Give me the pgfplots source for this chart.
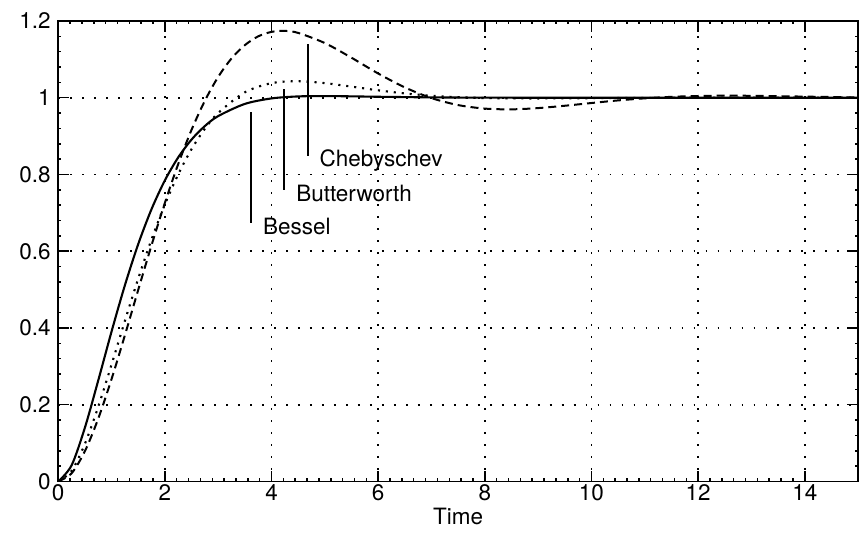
\documentclass[border=0pt]{standalone}
\usepackage{fontspec}
\setmainfont{TeX Gyre Heros}
\usepackage{pgfplots}
\pgfplotsset{compat=1.18}
\newcommand{\bigf}{\fontsize{22.5}{27}\selectfont}
\begin{document}
\begin{tikzpicture}
\begin{axis}[
  name=ax,
  width=800.7pt, height=461pt, scale only axis,
  xmin=0, xmax=15, ymin=0, ymax=1.2,
  xtick={0,2,4,6,8,10,12,14},
  ytick={0,0.2,0.4,0.6,0.8,1,1.2},
  /pgf/number format/assume math mode=true,
  tick label style={font=\bigf},
  label style={font=\bigf},
  yticklabel style={xshift=-4pt},
  xlabel={Time},
  grid=major,
  major grid style={black, line width=1.8pt, dash pattern=on 1.8pt off 10.2pt},
  axis line style={line width=1.5pt},
  tick align=inside,
  major tick length=11pt,
  minor x tick num=8, minor y tick num=4,
  minor tick length=3pt,
  tick style={black, line width=1.5pt},
]
% Bessel (solid)
\addplot[black, line width=2.1pt, smooth] coordinates {
(0,0) (0.25,0.0420) (0.5,0.1403) (0.75,0.2632) (1,0.3908) (1.25,0.5113)
(1.5,0.6186) (1.75,0.7098) (2,0.7847) (2.25,0.8445) (2.5,0.8910) (2.75,0.9262)
(3,0.9522) (3.5,0.9839) (4,0.9982) (4.5,1.0034) (5,1.0043) (5.5,1.0036)
(6,1.0025) (7,1.0009) (8,1.0002) (9,1.0000) (10,1.0000) (12,1.0000) (15,1.0000)
};
% Butterworth (dotted)
\addplot[black, line width=2.1pt, dash pattern=on 2.1pt off 5.9pt, smooth] coordinates {
(0,0) (0.25,0.0277) (0.5,0.0981) (0.75,0.1948) (1,0.3048) (1.25,0.4185)
(1.5,0.5286) (1.75,0.6310) (2,0.7219) (2.25,0.8004) (2.5,0.8660) (2.75,0.9191)
(3,0.9603) (3.5,1.0142) (4,1.0380) (4.5,1.0431) (5,1.0380) (5.5,1.0289)
(6,1.0193) (6.5,1.0112) (7,1.0052) (7.5,1.0014) (8,0.9992) (8.5,0.9983)
(9,0.9981) (10,0.9988) (11,0.9996) (12,1.0000) (13,1.0000) (14,1.0000) (15,1.0000)
};
% Chebyshev (dashed)
\addplot[black, line width=2pt, dash pattern=on 8pt off 5pt, smooth] coordinates {
(0,0) (0.25,0.0213) (0.5,0.0790) (0.75,0.1637) (1,0.2670) (1.25,0.3811)
(1.5,0.4994) (1.75,0.6158) (2,0.7262) (2.25,0.8272) (2.5,0.9164) (2.75,0.9922)
(3,1.0544) (3.25,1.1025) (3.5,1.1371) (3.75,1.1599) (4,1.1716) (4.25,1.1741)
(4.5,1.1689) (5,1.1424) (5.5,1.1042) (6,1.0631) (6.5,1.0268) (7,0.9990)
(7.5,0.9808) (8,0.9717) (8.5,0.9697) (9,0.9730) (9.5,0.9791) (10,0.9862)
(10.5,0.9930) (11,0.9984) (11.5,1.0023) (12,1.0045) (12.5,1.0053) (13,1.0050)
(14,1.0029) (15,1.0006)
};
% label pointer lines
\addplot[black, line width=2.1pt] coordinates {(3.62,0.674) (3.62,0.964)};
\addplot[black, line width=2.1pt] coordinates {(4.24,0.760) (4.24,1.023)};
\addplot[black, line width=2.1pt] coordinates {(4.68,0.849) (4.68,1.140)};
\node[anchor=base west, inner sep=0pt, font=\bigf] at (axis cs:3.84,0.643) {Bessel};
\node[anchor=base west, inner sep=0pt, font=\bigf] at (axis cs:4.46,0.730) {Butterworth};
\node[anchor=base west, inner sep=0pt, font=\bigf] at (axis cs:4.90,0.821) {Chebyschev};
\end{axis}
\path ([xshift=-58.3pt,yshift=-58pt]ax.south west) rectangle ([yshift=21pt]ax.north east);
\end{tikzpicture}
\end{document}
